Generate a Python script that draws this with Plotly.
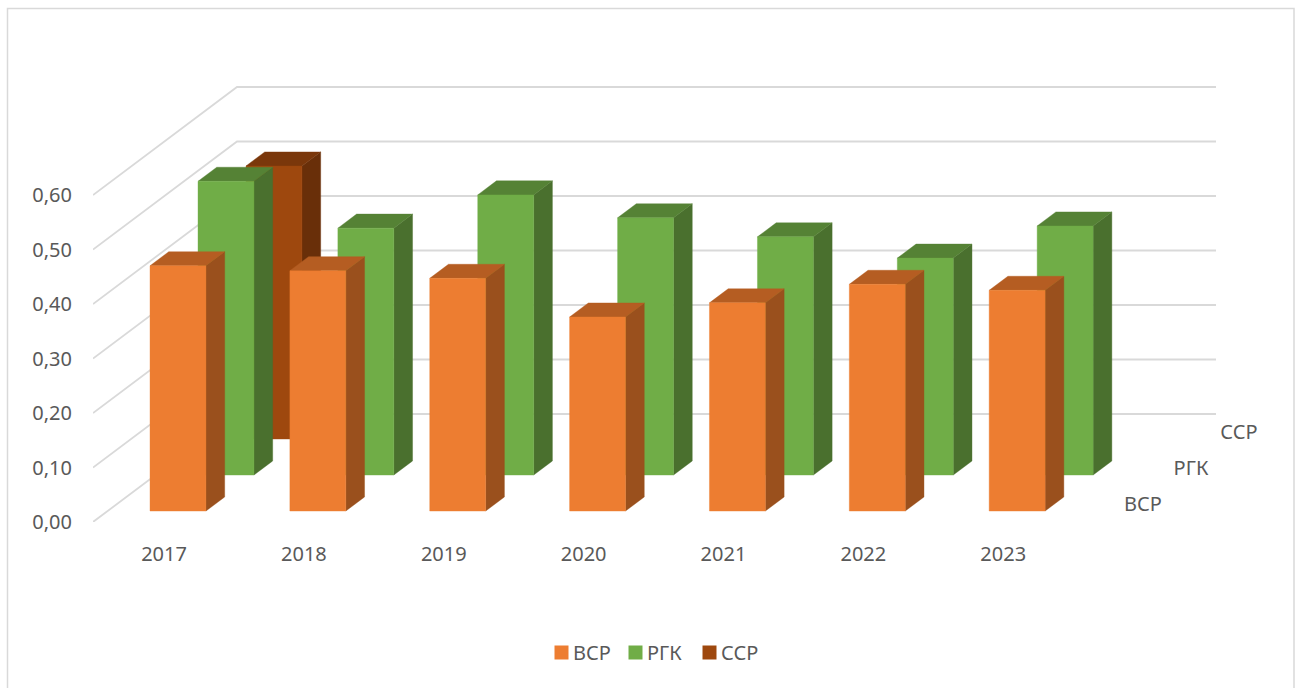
import plotly.graph_objects as go

years = ['2017', '2018', '2019', '2020', '2021', '2022', '2023']
y_ticks = [0.0, 0.1, 0.2, 0.3, 0.4, 0.5, 0.6]
y_labels = ['0,00', '0,10', '0,20', '0,30', '0,40', '0,50', '0,60']
series_names = ['ВСР', 'РГК', 'ССР']
vsr = [0.450, 0.441, 0.427, 0.356, 0.382, 0.416, 0.405]
rgk = [0.539, 0.453, 0.514, 0.472, 0.437, 0.398, 0.457]
ssr = [0.501, None, None, None, None, None, None]

front_colors = ['#ED7D31', '#70AD47', '#9E480E']
side_colors = ['#9A501D', '#4A702E', '#692F09']
top_colors = ['#B55D22', '#558235', '#7A370B']

FONT = 'Noto Sans'
TEXT = '#595959'
GRID = '#D9D9D9'

# oblique 3D like the Excel chart: one series step moves the point right and up
CAT_PX, VAL_PX = 139.86, 545.0
DX, DY = 48.0 / CAT_PX, 36.0 / VAL_PX
BAR_W, BAR_D = 0.40, 0.39

L, R, T, B = 93, 10, 20, 166
W, H = 1301, 688
plot_w, plot_h = W - L - R, H - T - B


def proj(x, z, v):
    return x + z * DX, v + z * DY


def poly(points):
    xs, ys = zip(*[proj(*p) for p in points])
    return list(xs) + [xs[0], None], list(ys) + [ys[0], None]


def faces(values, s):
    fx, fy, sx, sy, tx, ty = [], [], [], [], [], []
    z0 = s + (1 - BAR_D) / 2
    z1 = z0 + BAR_D
    for i, v in enumerate(values):
        if v is None:
            continue
        x0 = i + (1 - BAR_W) / 2 + 0.003
        x1 = x0 + BAR_W
        a, b = poly([(x0, z0, 0), (x1, z0, 0), (x1, z0, v), (x0, z0, v)])
        fx += a; fy += b
        a, b = poly([(x1, z0, 0), (x1, z1, 0), (x1, z1, v), (x1, z0, v)])
        sx += a; sy += b
        a, b = poly([(x0, z0, v), (x1, z0, v), (x1, z1, v), (x0, z1, v)])
        tx += a; ty += b
    return (fx, fy), (sx, sy), (tx, ty)


fig = go.Figure()

# legend entries only
for name, c in zip(series_names, front_colors):
    fig.add_trace(go.Scatter(x=[None], y=[None], mode='markers', name=name,
                             marker=dict(symbol='square', size=14, color=c)))

# grid: side wall then back wall
gx, gy = [], []
for v in y_ticks:
    gx += [0, 3 * DX, 7 + 3 * DX, None]
    gy += [v, v + 3 * DY, v + 3 * DY, None]
fig.add_trace(go.Scatter(x=gx, y=gy, mode='lines', showlegend=False, hoverinfo='skip',
                         line=dict(color=GRID, width=1.8)))

# back to front
for s, values in reversed(list(enumerate([vsr, rgk, ssr]))):
    f, sd, tp = faces(values, s)
    for (px, py), c in ((sd, side_colors[s]), (tp, top_colors[s]), (f, front_colors[s])):
        fig.add_trace(go.Scatter(x=px, y=py, mode='lines', fill='toself', fillcolor=c,
                                 line=dict(width=0.4, color=c), showlegend=False, hoverinfo='skip'))

# depth axis labels
lx, ly = zip(*[proj(7.336, s + 0.5, -0.004) for s in range(3)])
fig.add_trace(go.Scatter(x=list(lx), y=list(ly), mode='text', text=series_names,
                         textposition='middle center', cliponaxis=False, showlegend=False,
                         textfont=dict(family=FONT, size=20, color=TEXT), hoverinfo='skip'))

# chart frame
fig.add_shape(type='rect', xref='paper', yref='paper', layer='below',
              x0=(7.5 - L) / plot_w, x1=(1294 - L) / plot_w,
              y0=(H - B - 720) / plot_h, y1=(H - B - 8.5) / plot_h,
              line=dict(color=GRID, width=1.5))

fig.update_layout(
    width=W, height=H, margin=dict(l=L, r=R, t=T, b=B, pad=0),
    paper_bgcolor='white', plot_bgcolor='white',
    font=dict(family=FONT, size=20, color=TEXT),
    xaxis=dict(range=[0, plot_w / CAT_PX], tickmode='array',
               tickvals=[i + 0.508 for i in range(7)], ticktext=years,
               showgrid=False, zeroline=False, showline=False,
               ticks='outside', ticklen=14, tickcolor='rgba(0,0,0,0)'),
    yaxis=dict(range=[0, plot_h / VAL_PX], tickmode='array', tickvals=y_ticks, ticktext=y_labels,
               showgrid=False, zeroline=False, showline=False,
               ticks='outside', ticklen=16, tickcolor='rgba(0,0,0,0)'),
    legend=dict(orientation='h', x=(533 - L) / plot_w, xanchor='left',
                y=(H - B - 633) / plot_h, yanchor='top',
                entrywidth=29, entrywidthmode='pixels', itemclick=False, itemdoubleclick=False,
                font=dict(family=FONT, size=20, color=TEXT)),
)

# legend swatches sit closer to their text than plotly's fixed item width allows,
# and the narrow entries would otherwise clip the last label
post = ("document.body.style.margin='0';document.body.style.overflow='hidden';"
        "document.querySelectorAll('.legendpoints').forEach(function(g){g.setAttribute('transform','translate(8.5,0)');});"
        "document.querySelectorAll('.legend .scrollbox').forEach(function(g){g.removeAttribute('clip-path');g.style.clipPath='none';});")
fig.write_html('out.html', config=dict(displayModeBar=False), post_script=post)
